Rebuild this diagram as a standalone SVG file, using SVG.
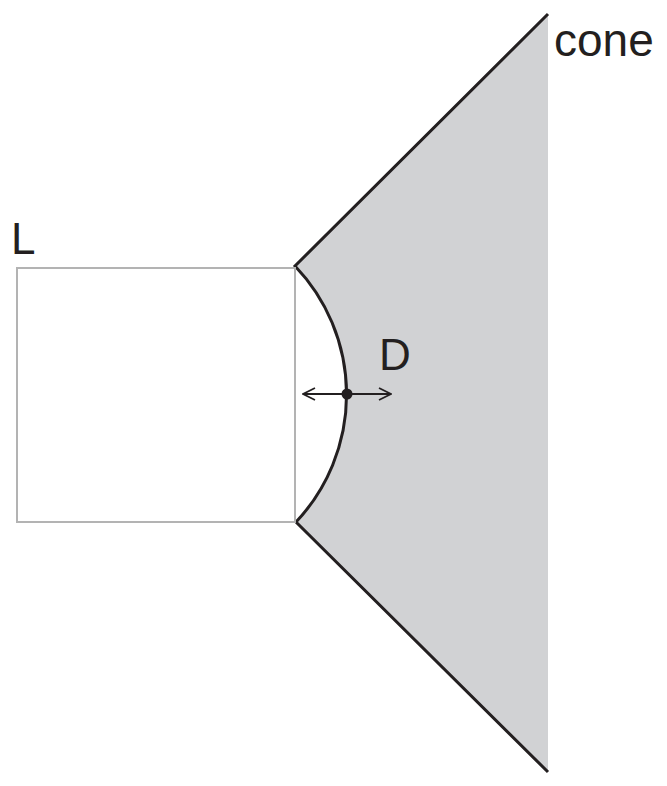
<svg xmlns="http://www.w3.org/2000/svg" width="667" height="786" viewBox="0 0 667 786">
<style>
.t{font-family:"Liberation Sans",Arial,sans-serif;font-size:44px;fill:#231f20}
.ln{stroke:#231f20;stroke-width:3;fill:none}
</style>
<defs>
<marker id="ah" viewBox="0 0 14 14" refX="13" refY="7" markerWidth="14" markerHeight="14" markerUnits="userSpaceOnUse" orient="auto-start-reverse">
<path d="M1,1 L13,7 L1,13" fill="none" stroke="#231f20" stroke-width="1.8"/>
</marker>
</defs>
<rect width="667" height="786" fill="#fff"/>
<g id="cone">
<path d="M295,266 L548,14 L548,772 L296,522 A186,186 0 0 0 295,266 Z" fill="#d1d2d4"/>
<path class="ln" d="M548,14 L295,266 A186,186 0 0 1 296,522 L548,772"/>
<text class="t" x="554" y="56" style="font-size:46px">cone</text>
</g>
<g id="L">
<rect x="17" y="268" width="278" height="254" fill="none" stroke="#b3b3b3" stroke-width="2"/>
<text class="t" x="11" y="254">L</text>
</g>
<g id="connectors">
<line x1="303" y1="394" x2="391" y2="394" stroke="#231f20" stroke-width="2" marker-start="url(#ah)" marker-end="url(#ah)"/>
<circle cx="347" cy="394" r="5.5" fill="#231f20"/>
</g>
<g id="D">
<text class="t" x="379" y="370">D</text>
</g>
</svg>
